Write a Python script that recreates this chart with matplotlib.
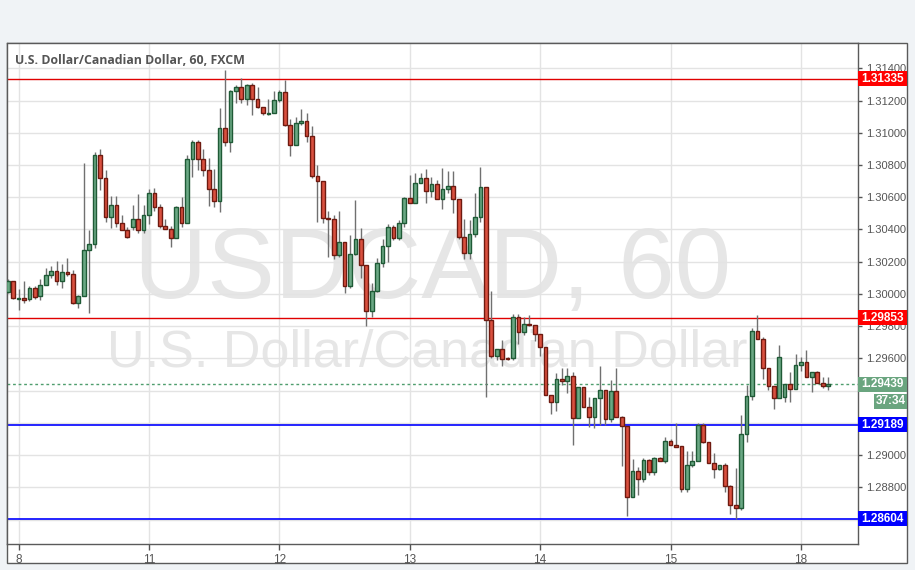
import matplotlib
matplotlib.use("Agg")
import matplotlib.pyplot as plt
from matplotlib.patches import Rectangle
import numpy as np

# ---------------- data (USDCAD, 60 min) ----------------
opens = [1.30014, 1.30077, 1.29971, 1.29973, 1.29967, 1.30035, 1.29988, 1.30054, 1.30116, 1.30141,
         1.30079, 1.30133, 1.30122, 1.29942, 1.29988, 1.30271, 1.30308, 1.30861, 1.30718, 1.30476,
         1.30551, 1.30439, 1.30398, 1.30414, 1.30464, 1.30398, 1.30489, 1.30624, 1.30541, 1.30421,
         1.30402, 1.30350, 1.30537, 1.30441, 1.30835, 1.30942, 1.30835, 1.30766, 1.30648, 1.30574,
         1.31027, 1.30940, 1.31257, 1.31282, 1.31207, 1.31294, 1.31207, 1.31158, 1.31118, 1.31120,
         1.31203, 1.31255, 1.31048, 1.30921, 1.31060, 1.31072, 1.30977, 1.30729, 1.30700, 1.30470,
         1.30464, 1.30240, 1.30319, 1.30046, 1.30246, 1.30340, 1.30178, 1.29896, 1.30021, 1.30190,
         1.30298, 1.30414, 1.30346, 1.30439, 1.30594, 1.30563, 1.30687, 1.30717, 1.30640, 1.30680,
         1.30591, 1.30649, 1.30671, 1.30591, 1.30355, 1.30252, 1.30370, 1.30479, 1.30662, 1.29838,
         1.29615, 1.29656, 1.29600, 1.29600, 1.29855, 1.29762, 1.29813, 1.29805, 1.29751, 1.29668,
         1.29371, 1.29327, 1.29470, 1.29460, 1.29491, 1.29228, 1.29420, 1.29300, 1.29234, 1.29352,
         1.29404, 1.29222, 1.29398, 1.29234, 1.29180, 1.28742, 1.28901, 1.28850, 1.28967, 1.28897,
         1.28980, 1.28965, 1.29087, 1.29061, 1.29056, 1.28788, 1.28939, 1.28961, 1.29187, 1.29079,
         1.28953, 1.28912, 1.28939, 1.28806, 1.28688, 1.28669, 1.29129, 1.29367, 1.29769, 1.29721,
         1.29538, 1.29429, 1.29352, 1.29358, 1.29441, 1.29408, 1.29559, 1.29579, 1.29483, 1.29514,
         1.29449, 1.29429]
highs = [1.30091, 1.30083, 1.30029, 1.30077, 1.30046, 1.30046, 1.30091, 1.30159, 1.30174, 1.30203,
         1.30186, 1.30224, 1.30149, 1.29995, 1.30812, 1.30398, 1.30878, 1.30899, 1.30770, 1.30605,
         1.30605, 1.30491, 1.30418, 1.30553, 1.30621, 1.30553, 1.30650, 1.30655, 1.30561, 1.30462,
         1.30423, 1.30547, 1.30603, 1.30862, 1.30955, 1.30955, 1.30897, 1.30841, 1.30773, 1.31152,
         1.31390, 1.31265, 1.31296, 1.31338, 1.31303, 1.31307, 1.31282, 1.31158, 1.31207, 1.31261,
         1.31265, 1.31327, 1.31085, 1.31097, 1.31147, 1.31122, 1.31040, 1.30801, 1.30700, 1.30516,
         1.30491, 1.30516, 1.30319, 1.30366, 1.30584, 1.30412, 1.30178, 1.30070, 1.30222, 1.30340,
         1.30435, 1.30429, 1.30460, 1.30600, 1.30739, 1.30750, 1.30749, 1.30773, 1.30724, 1.30707,
         1.30779, 1.30765, 1.30765, 1.30591, 1.30463, 1.30459, 1.30628, 1.30787, 1.30662, 1.30020,
         1.29656, 1.29714, 1.29611, 1.29875, 1.29875, 1.29855, 1.29867, 1.29805, 1.29751, 1.29668,
         1.29371, 1.29507, 1.29538, 1.29538, 1.29518, 1.29420, 1.29420, 1.29362, 1.29352, 1.29553,
         1.29404, 1.29466, 1.29538, 1.29243, 1.29180, 1.28974, 1.28928, 1.28980, 1.28974, 1.28990,
         1.28986, 1.29114, 1.29098, 1.29197, 1.29056, 1.29025, 1.29025, 1.29197, 1.29197, 1.29079,
         1.29011, 1.28939, 1.28950, 1.28815, 1.28919, 1.29249, 1.29433, 1.29790, 1.29870, 1.29735,
         1.29538, 1.29429, 1.29683, 1.29441, 1.29517, 1.29627, 1.29610, 1.29652, 1.29514, 1.29520,
         1.29483, 1.29483]
lows = [1.30004, 1.29967, 1.29901, 1.29946, 1.29959, 1.29967, 1.29963, 1.30054, 1.30097, 1.30056,
        1.30035, 1.30108, 1.29938, 1.29911, 1.29988, 1.29880, 1.30284, 1.30646, 1.30449, 1.30408,
        1.30418, 1.30398, 1.30346, 1.30398, 1.30381, 1.30377, 1.30435, 1.30514, 1.30406, 1.30402,
        1.30292, 1.30350, 1.30417, 1.30441, 1.30723, 1.30769, 1.30731, 1.30547, 1.30541, 1.30510,
        1.30920, 1.30882, 1.31183, 1.31187, 1.31172, 1.31110, 1.31152, 1.31110, 1.31110, 1.31120,
        1.31193, 1.31040, 1.30853, 1.30921, 1.31050, 1.30940, 1.30718, 1.30449, 1.30439, 1.30228,
        1.30215, 1.30232, 1.30004, 1.30035, 1.30242, 1.30097, 1.29801, 1.29855, 1.30010, 1.30164,
        1.30201, 1.30336, 1.30336, 1.30418, 1.30563, 1.30563, 1.30687, 1.30566, 1.30603, 1.30587,
        1.30527, 1.30624, 1.30500, 1.30341, 1.30217, 1.30217, 1.30355, 1.30448, 1.29358, 1.29600,
        1.29590, 1.29550, 1.29590, 1.29590, 1.29689, 1.29745, 1.29800, 1.29710, 1.29617, 1.29371,
        1.29255, 1.29276, 1.29435, 1.29383, 1.29063, 1.29228, 1.29300, 1.29176, 1.29166, 1.29187,
        1.29187, 1.29207, 1.29234, 1.28932, 1.28622, 1.28742, 1.28752, 1.28835, 1.28877, 1.28877,
        1.28965, 1.28949, 1.29061, 1.29052, 1.28773, 1.28773, 1.28928, 1.28961, 1.29073, 1.28949,
        1.28856, 1.28908, 1.28773, 1.28633, 1.28606, 1.28659, 1.29080, 1.29342, 1.29721, 1.29470,
        1.29404, 1.29284, 1.29352, 1.29331, 1.29331, 1.29408, 1.29524, 1.29483, 1.29393, 1.29449,
        1.29414, 1.29404]
closes = [1.30077, 1.29973, 1.29974, 1.29963, 1.30035, 1.29983, 1.30054, 1.30116, 1.30141, 1.30079,
          1.30133, 1.30122, 1.29942, 1.29988, 1.30273, 1.30308, 1.30861, 1.30718, 1.30476, 1.30551,
          1.30439, 1.30398, 1.30352, 1.30464, 1.30398, 1.30489, 1.30625, 1.30541, 1.30421, 1.30402,
          1.30350, 1.30537, 1.30441, 1.30835, 1.30942, 1.30835, 1.30766, 1.30648, 1.30574, 1.31027,
          1.30940, 1.31257, 1.31282, 1.31207, 1.31294, 1.31207, 1.31158, 1.31120, 1.31121, 1.31203,
          1.31255, 1.31046, 1.30921, 1.31060, 1.31072, 1.30977, 1.30729, 1.30700, 1.30470, 1.30464,
          1.30240, 1.30319, 1.30046, 1.30246, 1.30340, 1.30178, 1.29896, 1.30021, 1.30190, 1.30298,
          1.30414, 1.30346, 1.30439, 1.30594, 1.30563, 1.30687, 1.30717, 1.30640, 1.30680, 1.30591,
          1.30649, 1.30671, 1.30591, 1.30355, 1.30252, 1.30370, 1.30479, 1.30662, 1.29838, 1.29615,
          1.29656, 1.29594, 1.29594, 1.29855, 1.29762, 1.29813, 1.29805, 1.29751, 1.29668, 1.29371,
          1.29327, 1.29470, 1.29460, 1.29491, 1.29228, 1.29420, 1.29300, 1.29234, 1.29352, 1.29404,
          1.29222, 1.29398, 1.29234, 1.29180, 1.28742, 1.28901, 1.28850, 1.28967, 1.28897, 1.28980,
          1.28965, 1.29087, 1.29061, 1.29052, 1.28788, 1.28939, 1.28961, 1.29187, 1.29079, 1.28953,
          1.28912, 1.28939, 1.28806, 1.28690, 1.28669, 1.29129, 1.29367, 1.29769, 1.29721, 1.29538,
          1.29429, 1.29352, 1.29607, 1.29441, 1.29408, 1.29559, 1.29579, 1.29483, 1.29514, 1.29449,
          1.29429, 1.29439]

date_tick_pos = [2, 26, 50, 74, 98, 122, 146]
date_tick_labels = ["8", "11", "12", "13", "14", "15", "18"]
price_ticks = [1.288, 1.290, 1.296, 1.298, 1.300, 1.302, 1.304, 1.306,
               1.308, 1.310, 1.312, 1.314]
grid_levels = [1.286, 1.292, 1.294]   # grid lines whose labels sit under the level boxes

red_levels = [1.31335, 1.29853]
blue_levels = [1.29189, 1.28604]
last_price = 1.29439
countdown = "37:34"
title = "U.S. Dollar/Canadian Dollar, 60, FXCM"
symbol = "USDCAD, 60"
description = "U.S. Dollar/Canadian Dollar"

# ---------------- styling ----------------
W, H = 915, 570
FONT = ["Liberation Sans", "DejaVu Sans"]
plt.rcParams["font.family"] = FONT

UP_FILL, UP_EDGE = "#6aa884", "#1f5a36"
DN_FILL, DN_EDGE = "#d9503f", "#6e1a10"
WICK = "#707070"
TXT = "#555555"
GRID = "#e3e3e3"

fig = plt.figure(figsize=(W / 100, H / 100), dpi=100, facecolor="#f0f3f6")
# white panel behind the axes
fig.patches.append(Rectangle((7 / W, 7 / H), 900 / W, 520 / H, transform=fig.transFigure,
                             facecolor="white", edgecolor="#5a5a5a", lw=1.0, zorder=-5))
ax = fig.add_axes([7 / W, 26 / H, 851 / W, 501 / H])
ax.set_zorder(2)
ax.set_facecolor("white")

o = np.array(opens); h = np.array(highs); l = np.array(lows); c = np.array(closes)
x = np.arange(len(o))
up = c >= o

ax.set_xlim(-0.13, 156.5)
ax.set_ylim(1.28448, 1.31557)

# watermark
ax.text(0.5, 0.4904, symbol, transform=ax.transAxes, ha="center", va="baseline",
        fontsize=73, color="#e6e6e6", zorder=0.5)
ax.text(0.494, 0.3539, description, transform=ax.transAxes, ha="center", va="baseline",
        fontsize=37.5, color="#e6e6e6", zorder=0.5)

# ticks & grid
ax.set_yticks(price_ticks)
ax.set_xticks(date_tick_pos)
ax.set_xticklabels(date_tick_labels)
ax.grid(True, color=GRID, lw=1.0)
ax.set_axisbelow(True)
for g in grid_levels:
    ax.axhline(g, color=GRID, lw=1.0, zorder=0.8)

# levels
for lv in red_levels:
    ax.axhline(lv, color="#e00000", lw=1.0, zorder=2)
for lv in blue_levels:
    ax.axhline(lv, color="#0000ff", lw=1.2, zorder=2)
ax.axhline(last_price, color="#4f9e6e", lw=1.0, ls=(0, (2, 2)), zorder=2)

# candles
ax.vlines(x, l, h, color=WICK, lw=1.0, zorder=3)
bw = 0.68
bottoms = np.minimum(o, c)
heights = np.abs(c - o)
ax.bar(x[up], heights[up], bw, bottom=bottoms[up], color=UP_FILL, edgecolor=UP_EDGE, lw=1.0, zorder=4)
ax.bar(x[~up], heights[~up], bw, bottom=bottoms[~up], color=DN_FILL, edgecolor=DN_EDGE, lw=1.0, zorder=4)

# axes styling
ax.yaxis.tick_right()
ax.yaxis.set_major_formatter(matplotlib.ticker.FormatStrFormatter("%.5f"))
ax.tick_params(axis="y", direction="out", length=3, width=1, color="#555555",
               labelsize=8, labelcolor=TXT, pad=3)
ax.tick_params(axis="x", direction="out", length=4, width=1, color="#555555",
               labelsize=8.5, labelcolor=TXT, pad=3)
for s in ax.spines.values():
    s.set_color("#5a5a5a")
    s.set_linewidth(1.0)

# title
ax.text(8 / 851, 1 - 18 / 501, title, transform=ax.transAxes, ha="left", va="center",
        fontsize=8.9, color="#555555", fontweight="bold", family=["Open Sans", "DejaVu Sans"], zorder=6)

# price label boxes
ytr = ax.get_yaxis_transform()
box_h = 15 / 16115.0
bx0 = 1.0
bw_ax = 49 / 851


def price_box(val, color, text, x0=bx0, width=bw_ax, yc=None):
    yc = val if yc is None else yc
    ax.add_patch(Rectangle((x0, yc - box_h / 2), width, box_h, transform=ytr,
                           facecolor=color, edgecolor="none", clip_on=False, zorder=10))
    ax.text(x0 + width / 2, yc, text, transform=ytr, ha="center", va="center",
            fontsize=8.5, color="white", fontweight="bold", clip_on=False, zorder=11)


for lv in red_levels:
    price_box(lv, "#ff0000", f"{lv:.5f}")
for lv in blue_levels:
    price_box(lv, "#0000ff", f"{lv:.5f}")
price_box(last_price, "#6aa57f", f"{last_price:.5f}")
price_box(last_price, "#6aa57f", countdown, x0=(874 - 7) / 851, width=33 / 851,
          yc=last_price - 17 / 16115.0)

fig.savefig("out.png", dpi=100, facecolor=fig.get_facecolor())
